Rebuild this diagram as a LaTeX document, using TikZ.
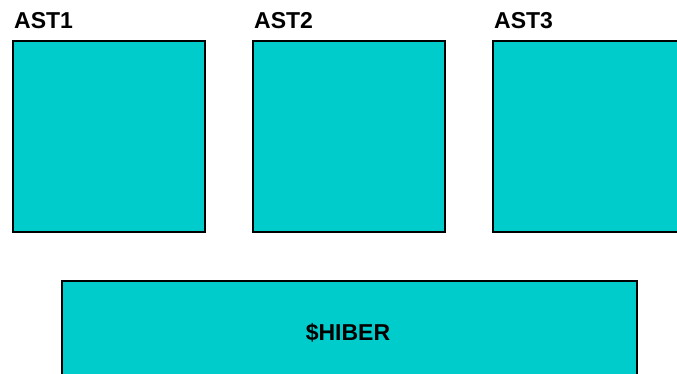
\documentclass[tikz,border=0pt]{standalone}
\usepackage{fontspec}
\setmainfont{Liberation Sans}
\definecolor{boxcyan}{HTML}{00CCCC}
\begin{document}
\begin{tikzpicture}[x=1pt,y=-1pt,
  panel/.style={fill=boxcyan,draw=black,line width=2.4pt},
  lbl/.style={font=\fontsize{23}{27}\selectfont\bfseries,inner sep=0pt,anchor=base west}]
\useasboundingbox (0,0) rectangle (677,374);
\begin{scope}
\clip (0,0) rectangle (677,374);
\draw[panel] (13,41) rectangle (205,232);
\draw[panel] (253,41) rectangle (445,232);
\draw[panel] (493,41) rectangle (700,232);
\draw[panel] (62,281) rectangle (637,400);
\end{scope}
\node[lbl] (a1) at (14,29) {AST1};
\node[lbl] (a2) at (254,29) {AST2};
\node[lbl] (a3) at (494,29) {AST3};
\node[font=\fontsize{23}{27}\selectfont\bfseries,inner sep=0pt,anchor=base] (h) at (348,340) {\$HIBER};
\end{tikzpicture}
\end{document}
